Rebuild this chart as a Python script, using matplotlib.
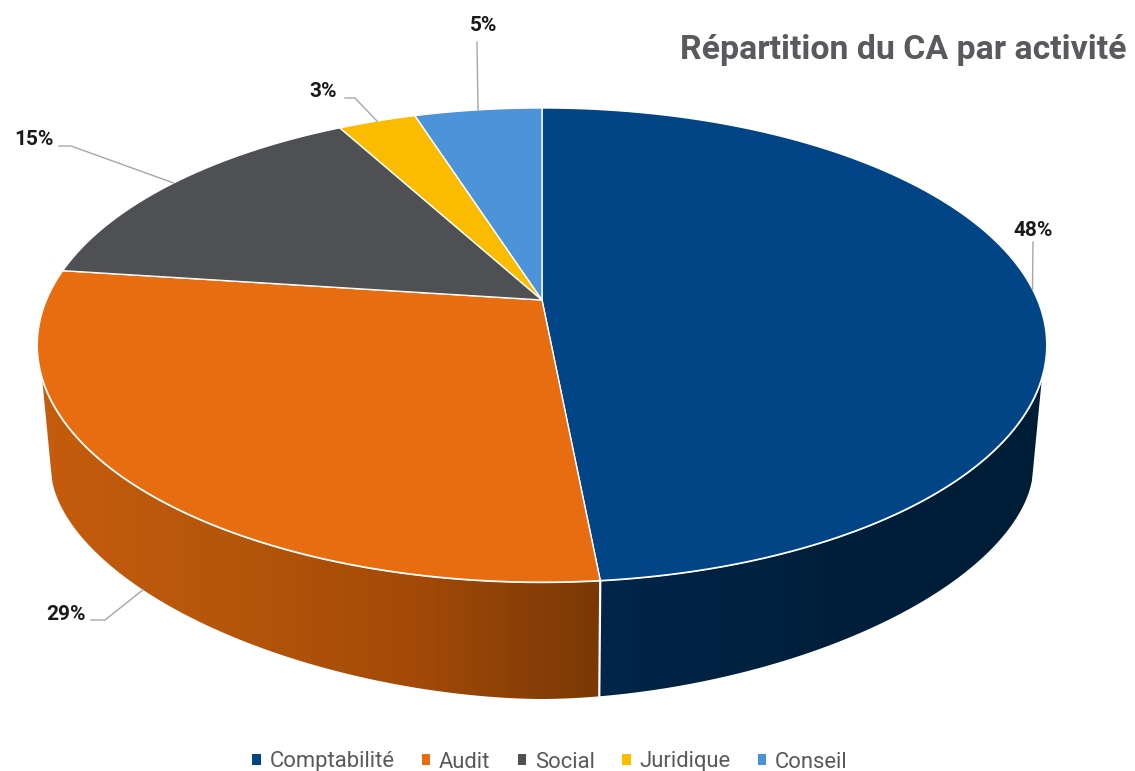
#!/usr/bin/env python3
import numpy as np
import matplotlib
matplotlib.use('Agg')
import matplotlib.pyplot as plt
from matplotlib.colors import LinearSegmentedColormap
from matplotlib.patches import Patch, Polygon

title = 'Répartition du CA par activité'
categories = ['Comptabilité', 'Audit', 'Social', 'Juridique', 'Conseil']
shares = [48.48, 28.62, 15.0, 3.0, 4.9]
colors = ['#014587', '#E86C10', '#4E5054', '#FBBC00', '#4D93D9']

# top face: apex of the slices and perspective of the disc, in pixels
apex_x, apex_y = 542, 300
scale_x, scale_y, persp = 495.5, 228.5, 0.19
# bottom outline of the wall
low_x, low_y, low_a, low_b, low_n = 542, 470, 491, 229, 1.8
wall_top_y = 377

# label position, elbow of the leader line
label_pos = [(1033, 230.5), (66, 615), (34, 139.5), (323, 91.5), (484, 25.5)]
elbows = [(1033, 242), (105, 620), (71, 146), (355, 98), (477, 42)]
line_starts = [None, (91, 620), (59, 146), (345, 98), None]


def rim(turn):
    '''turn is a fraction of the circle, clockwise from the top'''
    a = np.asarray(turn) * 2 * np.pi
    x, y = np.sin(a), np.cos(a)
    d = 1 + persp * y
    return apex_x + scale_x * x / d, apex_y - scale_y * y / d


def low_rim(x):
    u = np.clip(np.abs(np.asarray(x, dtype=float) - low_x) / low_a, 0, 1)
    return low_y + low_b * (1 - u ** low_n) ** (1 / low_n)


fig = plt.figure(figsize=(11.35, 7.71), dpi=100)
ax = fig.add_axes([0, 0, 1, 1])

bounds = np.concatenate([[0], np.cumsum(shares)]) / 100.0
split = bounds[1]
split_x, split_y = rim(split)

# find where the rim meets the top of the wall on both sides
turns = np.linspace(0.25, 0.75, 2001)
rx, ry = rim(turns)
front = turns[ry >= wall_top_y]
t_right, t_left = front[0], front[-1]


def wall(t0, t1, x0, x1, cmap_colors, z):
    t = np.linspace(t0, t1, 200)
    tx, ty = rim(t)
    bx = np.linspace(x0, x1, 400)
    by = low_rim(bx)
    pts = np.column_stack([np.r_[tx, bx], np.r_[ty, by]])
    cmap = LinearSegmentedColormap.from_list('w', cmap_colors)
    grad = np.linspace(0, 1, 256).reshape(1, -1)
    im = ax.imshow(grad, cmap=cmap, aspect='auto', zorder=z,
                   extent=(min(x0, x1, tx.min()), max(x0, x1, tx.max()), 771, 0))
    im.set_clip_path(Polygon(pts, closed=True, transform=ax.transData))


wall(split, t_left, low_x - low_a, split_x - 1,
     ['#C65C0D', '#B5560A', '#A34A08', '#7A3805'], 1)
wall(t_right, split, split_x - 1, low_x + low_a,
     ['#00264A', '#001F3B', '#001D37'], 1)

# white edges of the wall
edge_t = np.linspace(t_right, t_left, 500)
ex, ey = rim(edge_t)
ax.plot(ex, ey, color='white', lw=1.6, zorder=3)
ax.plot([split_x, split_x - 1], [split_y, low_rim(split_x - 1)],
        color='white', lw=1.6, zorder=3)

# top face
for i, c in enumerate(colors):
    t = np.linspace(bounds[i], bounds[i + 1], 300)
    x, y = rim(t)
    ax.fill(np.r_[apex_x, x], np.r_[apex_y, y], facecolor=c,
            edgecolor='white', lw=1.0, zorder=4, joinstyle='round')

# labels and leader lines
for i, s in enumerate(shares):
    mid = (bounds[i] + bounds[i + 1]) / 2
    if i == 1:
        end_x = 143
        end_y = float(low_rim(end_x))
    else:
        end_x, end_y = rim(mid)
    xs, ys = [], []
    if line_starts[i] is not None:
        xs.append(line_starts[i][0])
        ys.append(line_starts[i][1])
    xs += [elbows[i][0], end_x]
    ys += [elbows[i][1], end_y]
    ax.plot(xs, ys, color='#A6A6A6', lw=1.0, zorder=2 if i == 1 else 5)
    ax.text(label_pos[i][0], label_pos[i][1], '{0:.0f}%'.format(s),
            family='Roboto', fontweight='bold', fontsize=15,
            color='#1A1A1A', ha='center', va='center', zorder=6)

ax.text(1127, 49.5, title, family='Roboto', fontweight='bold', fontsize=24.4,
        color='#595A5E', ha='right', va='center')

handles = [Patch(facecolor=c, edgecolor='none') for c in colors]
ax.legend(handles, categories, loc='center', bbox_to_anchor=(550 / 1135, 1 - 762 / 771),
          ncol=5, frameon=False, handlelength=0.38, handleheight=0.38,
          handletextpad=0.4, columnspacing=1.25, borderpad=0, borderaxespad=0,
          prop={'family': 'Roboto', 'size': 15.8}, labelcolor='#595959')

ax.set_xlim(0, 1135)
ax.set_ylim(771, 0)
ax.axis('off')
fig.savefig('out.png', dpi=100)
